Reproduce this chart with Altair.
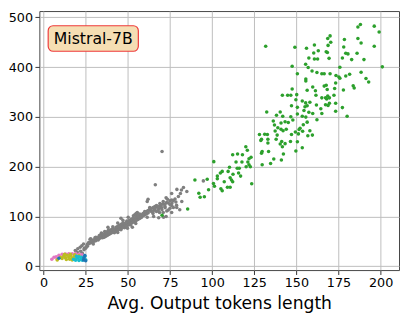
import altair as alt
import pandas as pd

# ---- data (x = avg output tokens, y = value) ----
gray_pts = [
    (70.3, 230.5), (66.3, 163.8), (79.1, 154.3), (81.8, 153.0), (81.2, 145.9), (94.8, 171.4),
    (62.0, 134.5), (61.5, 130.1), (72.7, 137.7), (73.5, 134.5), (75.0, 131.4), (76.2, 126.9),
    (78.5, 128.8), (78.9, 122.5), (80.8, 113.5), (69.2, 121.9), (71.2, 125.0), (66.9, 118.7),
    (63.0, 113.0), (65.7, 113.5), (68.3, 115.4), (70.2, 113.5), (72.1, 117.3), (75.0, 116.2),
    (73.1, 111.0), (76.0, 107.8), (72.7, 99.6), (68.8, 107.8), (64.9, 105.9), (60.5, 107.8),
    (59.1, 101.5), (55.6, 107.8), (54.1, 103.4), (56.6, 97.1), (61.5, 98.3), (65.3, 99.6),
    (68.3, 97.1), (71.2, 98.3), (54.9, 105.9), (53.3, 101.5), (50.2, 98.3), (47.1, 92.0),
    (49.4, 90.7), (44.0, 86.9), (51.7, 88.8), (54.1, 93.3), (38.2, 78.1), (41.1, 79.2),
    (45.0, 80.6), (48.3, 82.5), (51.7, 82.5), (54.7, 85.7), (42.4, 69.7), (45.9, 73.0),
    (49.8, 76.2), (52.7, 78.1), (36.3, 69.7), (39.2, 66.7), (33.4, 62.1), (36.3, 60.2),
    (30.5, 57.1), (32.4, 52.6), (28.5, 50.7), (26.6, 46.3), (23.7, 44.4), (25.6, 40.0),
    (21.7, 38.1), (20.3, 34.9), (29.5, 44.4), (44.0, 67.8), (45.9, 96.4), (38.6, 73.0),
    (34.3, 66.7), (27.6, 53.9), (22.7, 41.1), (24.2, 36.2), (18.8, 31.6),
    (27, 48), (29, 52), (30, 50), (31, 55), (32, 54), (33, 58), (34, 60), (35, 61), (35, 57),
    (36, 64), (37, 63), (38, 66), (39, 68), (40, 70), (40, 66), (41, 72), (42, 71), (43, 75),
    (43, 70), (44, 76), (45, 77), (46, 79), (46, 75), (47, 82), (48, 80), (49, 84), (50, 86),
    (50, 82), (51, 87), (52, 90), (53, 92), (53, 88), (54, 95), (55, 97), (56, 99), (56, 94),
    (57, 101), (58, 103), (58, 98), (59, 106), (60, 108), (60, 103), (61, 110), (62, 112),
    (62, 107), (63, 115), (64, 110), (65, 118), (66, 120), (66, 114), (67, 122), (68, 112),
    (69, 118), (70, 124), (71, 108), (72, 120), (73, 128), (74, 113), (76, 122), (77, 132),
    (20, 28), (22, 30), (24, 33), (23, 26), (25, 36), (26, 40),
    (26, 44), (27, 45), (28, 47), (28, 55), (29, 49), (30, 53), (31, 51), (31, 58), (32, 57),
    (33, 55), (33, 61), (34, 57), (34, 63), (35, 65), (36, 62), (36, 58), (37, 66), (37, 60),
    (38, 62), (38, 70), (39, 71), (39, 64), (40, 73), (41, 68), (41, 75), (42, 73), (42, 67),
    (43, 78), (44, 72), (44, 80), (45, 74), (45, 82), (46, 84), (47, 78), (47, 86), (48, 85),
    (48, 77), (49, 80), (49, 88), (50, 90), (51, 84), (51, 92), (52, 86), (52, 94), (53, 96),
    (54, 90), (55, 92), (55, 100), (56, 102), (57, 96), (57, 105), (58, 100), (59, 104),
    (60, 110), (61, 105), (62, 109), (63, 118), (64, 116), (65, 110), (66, 116), (67, 110),
    (68, 120), (69, 126), (70, 118), (71, 130), (72, 124), (74, 127), (75, 124), (76, 133),
    (77, 118), (78, 135), (80, 140), (79, 118), (82, 130), (76, 146), (83, 158), (85, 150),
]

green_pts = [
    (188.0, 485.7), (186.5, 480.6), (196.2, 482.5), (199.1, 470.5), (170.0, 462.9), (168.6, 457.7),
    (178.5, 455.8), (186.5, 457.7), (170.4, 450.1), (188.4, 448.8), (160.7, 444.4), (168.8, 443.8),
    (178.1, 440.6), (196.2, 441.9), (149.1, 440.0), (156.0, 438.1), (163.0, 433.0), (167.7, 431.1),
    (160.3, 428.6), (168.4, 429.7), (179.3, 427.8), (180.6, 426.7), (186.0, 427.8), (157.4, 418.3),
    (160.7, 416.4), (162.6, 416.4), (169.4, 417.7), (177.3, 418.3), (182.8, 415.2), (190.1, 415.2),
    (155.5, 405.7), (157.0, 399.2), (175.8, 400.0), (201.0, 400.6), (159.3, 392.4), (162.2, 389.2),
    (165.1, 386.7), (166.5, 386.7), (170.0, 386.7), (173.5, 383.4), (175.2, 380.2), (175.8, 377.7),
    (179.3, 382.1), (181.6, 385.9), (188.4, 389.7), (150.6, 386.7), (155.6, 376.4), (155.6, 372.0),
    (191.3, 377.1), (192.9, 370.1), (173.3, 368.2), (167.7, 363.8), (166.5, 361.9), (183.7, 362.5),
    (184.3, 358.1), (159.7, 360.0), (156.4, 353.5), (161.3, 352.4), (168.3, 354.9), (172.7, 357.3),
    (177.9, 354.3), (150.2, 344.8), (161.6, 343.4), (165.1, 338.3), (168.6, 342.1), (167.3, 338.3),
    (172.3, 343.4), (168.0, 335.8), (169.6, 338.3), (153.5, 332.0), (155.5, 328.2), (158.0, 329.5),
    (156.4, 322.5), (155.1, 320.6), (149.7, 334.5), (150.6, 319.2), (161.9, 323.8), (167.3, 324.4),
    (169.6, 327.6), (168.8, 323.1), (173.3, 327.6), (177.3, 318.7), (164.5, 316.2), (173.3, 311.6),
    (154.5, 313.0), (157.4, 309.2), (159.7, 306.7), (165.1, 306.7), (150.6, 305.9), (153.5, 301.5),
    (155.6, 299.6), (180.1, 301.5), (162.2, 294.5), (156.4, 289.5), (154.1, 284.4), (152.2, 277.3),
    (151.6, 274.9), (153.7, 271.1), (158.0, 272.4), (149.4, 269.7), (151.2, 265.9), (156.8, 262.1),
    (159.5, 263.4), (150.6, 250.1), (153.5, 238.1), (149.7, 231.6),
    (147.1, 322.5), (132.4, 309.7), (140.4, 309.7), (138.2, 303.4), (141.9, 301.5), (146.7, 300.2),
    (147.9, 293.9), (136.3, 292.0), (143.3, 290.1), (145.2, 288.8), (140.9, 287.6), (137.0, 283.8),
    (139.0, 278.1), (140.9, 275.4), (144.0, 275.4), (137.4, 271.6), (142.1, 272.4), (147.1, 264.8),
    (131.2, 265.3), (128.1, 264.8), (132.8, 264.8), (138.6, 263.4), (129.3, 255.2), (133.1, 255.2),
    (138.0, 255.2), (128.9, 252.6), (141.3, 250.7), (143.3, 246.3), (140.4, 245.7), (141.7, 240.0),
    (146.5, 250.7), (133.1, 247.6), (120.0, 240.0), (120.9, 233.0), (129.7, 230.5), (133.5, 230.5),
    (129.3, 227.2), (118.0, 224.0), (112.2, 224.0), (115.1, 225.3), (123.1, 219.1), (121.9, 215.8),
    (136.6, 215.2), (142.3, 225.3), (141.1, 213.3), (114.2, 209.5), (117.7, 209.5), (121.2, 209.5),
    (134.7, 206.3), (129.7, 203.8), (121.9, 203.8), (120.2, 200.0), (122.7, 200.0), (114.9, 196.8),
    (116.1, 196.8), (110.3, 198.7), (106.0, 190.5), (109.5, 190.5), (104.9, 187.2), (115.7, 187.2),
    (112.4, 184.8), (116.9, 181.0), (110.7, 177.7), (111.5, 173.3), (112.2, 169.5), (103.1, 175.8),
    (123.5, 165.7), (109.1, 158.7), (110.7, 158.7), (105.2, 155.4), (106.0, 151.6), (107.2, 169.5),
    (131.8, 441.9), (147.5, 401.9), (147.5, 356.2), (141.7, 343.4), (144.8, 343.4), (146.7, 343.4),
    (101.0, 210.1), (89.8, 173.3), (97.1, 174.5), (100.8, 166.3), (101.4, 160.6), (97.9, 153.5),
    (92.1, 146.7), (92.9, 138.3), (95.4, 139.6), (85.5, 114.9), (70.3, 102.1), (103.1, 181.0),
]

pink_pts = [
    (4.9, 13.9), (6.2, 17.7), (7.5, 19.0), (9.1, 22.0), (11.0, 24.0), (13.0, 24.5), (15.0, 25.0),
    (17.0, 24.8), (19.0, 25.5), (21.0, 24.0), (22.7, 23.0), (8.0, 14.5), (12.0, 21.0),
]
olive_pts = [
    (8.1, 12.6), (10.0, 18.0), (11.0, 15.5), (12.0, 20.0), (13.0, 17.0), (14.0, 22.0), (15.0, 18.0),
    (15.5, 14.0), (16.0, 21.0), (17.0, 16.0), (18.0, 19.5), (18.5, 23.0), (19.0, 15.0), (20.0, 18.0),
    (21.0, 21.0), (13.5, 13.5), (17.0, 12.5), (12.5, 24.0), (16.0, 24.0),
]
cyan_pts = [
    (17.8, 14.0), (19.0, 12.0), (20.0, 16.0), (21.0, 11.5), (22.0, 14.0), (22.5, 18.0), (23.0, 12.0),
    (24.0, 15.0), (24.5, 20.0), (25.0, 13.0), (21.0, 19.0), (19.5, 20.0),
]
blue_pts = [(9.1, 15.8), (23.7, 12.6), (24.0, 17.0), (24.5, 21.5), (25.0, 11.0)]

groups = ["gray", "green", "pink", "olive", "cyan", "blue"]
colors = ["#7f7f7f", "#2ca02c", "#e377c2", "#bcbd22", "#17becf", "#1f77b4"]
series = [gray_pts, green_pts, pink_pts, olive_pts, cyan_pts, blue_pts]

x_ticks = [0, 25, 50, 75, 100, 125, 150, 175, 200]
y_ticks = [0, 100, 200, 300, 400, 500]
label_text = ["Mistral-7B"]

rows = []
for g, pts in zip(groups, series):
    for (xv, yv) in pts:
        rows.append({"x": xv, "y": yv, "group": g})
df = pd.DataFrame(rows)
df["order"] = range(len(df))

points = alt.Chart(df).mark_circle(size=13, opacity=1).encode(
    x=alt.X("x:Q",
            scale=alt.Scale(domain=[-2.5, 210.9], nice=False, zero=False),
            axis=alt.Axis(values=x_ticks, title="Avg. Output tokens length",
                          labelPadding=2, titlePadding=6)),
    y=alt.Y("y:Q",
            scale=alt.Scale(domain=[-7.9, 512.8], nice=False, zero=False),
            axis=alt.Axis(values=y_ticks, title=None, labelPadding=2.5)),
    color=alt.Color("group:N", scale=alt.Scale(domain=groups, range=colors), legend=None),
    order=alt.Order("order:Q"),
)

lab = pd.DataFrame({"t": label_text})
box = alt.Chart(lab).mark_rect(
    fill="#f5deb3", stroke="#ee3b3b", strokeWidth=1.2, cornerRadius=5
).encode(x=alt.value(9), x2=alt.value(101), y=alt.value(15), y2=alt.value(41))

txt = alt.Chart(lab).mark_text(
    font="DejaVu Sans", fontSize=16, align="center", baseline="middle", color="black"
).encode(x=alt.value(55), y=alt.value(28.5), text="t:N")

chart = alt.layer(points, box, txt).properties(
    width=367, height=264.3,
    padding={"left": 32, "top": 0, "right": 1, "bottom": 42},
    autosize=alt.AutoSizeParams(type="none"),
).configure_view(
    stroke="#444444", strokeWidth=1
).configure_axis(
    grid=True, gridColor="#bdbdbd", gridWidth=1, domain=False,
    tickColor="#333333", tickSize=4.5, tickWidth=1,
    labelFont="DejaVu Sans", labelFontSize=13, labelColor="black",
    titleFont="DejaVu Sans", titleFontSize=17.5, titleColor="black", titleFontWeight="normal",
)

chart.save("out.html", embed_options={"renderer": "svg", "actions": False})
